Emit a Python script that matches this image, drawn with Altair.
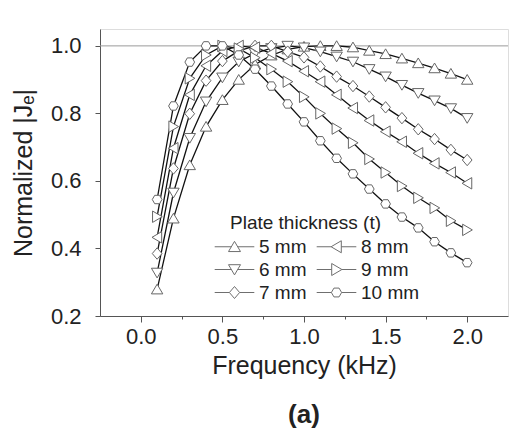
import altair as alt
import pandas as pd

freq = [0.1, 0.2, 0.3, 0.4, 0.5, 0.6, 0.7, 0.8, 0.9, 1.0,
        1.1, 1.2, 1.3, 1.4, 1.5, 1.6, 1.7, 1.8, 1.9, 2.0]

labels = ["5 mm", "6 mm", "7 mm", "8 mm", "9 mm", "10 mm"]

t5 = [0.279, 0.489, 0.647, 0.761, 0.840, 0.900, 0.945, 0.972, 0.990, 0.998,
      1.000, 1.000, 0.996, 0.986, 0.976, 0.963, 0.949, 0.934, 0.918, 0.900]
t6 = [0.328, 0.565, 0.727, 0.835, 0.906, 0.953, 0.978, 0.993, 1.000, 0.995,
      0.983, 0.968, 0.953, 0.931, 0.909, 0.884, 0.860, 0.838, 0.815, 0.786]
t7 = [0.385, 0.637, 0.799, 0.897, 0.955, 0.985, 1.000, 1.000, 0.983, 0.966,
      0.939, 0.909, 0.881, 0.850, 0.818, 0.786, 0.753, 0.724, 0.692, 0.662]
t8 = [0.433, 0.697, 0.855, 0.941, 0.985, 1.000, 0.995, 0.978, 0.955, 0.925,
      0.894, 0.855, 0.816, 0.779, 0.746, 0.716, 0.682, 0.652, 0.625, 0.593]
t9 = [0.494, 0.761, 0.904, 0.973, 1.000, 0.992, 0.965, 0.931, 0.894, 0.849,
      0.800, 0.755, 0.713, 0.665, 0.625, 0.585, 0.550, 0.520, 0.482, 0.455]
t10 = [0.545, 0.822, 0.952, 1.000, 1.000, 0.973, 0.931, 0.881, 0.828, 0.775,
       0.719, 0.667, 0.621, 0.576, 0.532, 0.493, 0.461, 0.420, 0.387, 0.358]

series = [t5, t6, t7, t8, t9, t10]

rows = []
for lab, vals in zip(labels, series):
    for f, v in zip(freq, vals):
        rows.append({"f": f, "v": v, "t": lab})
df = pd.DataFrame(rows)

# marker shapes (plot)
marker_paths = [
    "M0,-0.9L1,0.8L-1,0.8Z",                       # triangle up
    "M0,0.9L1,-0.8L-1,-0.8Z",                      # triangle down
    "M0,-1L0.85,0L0,1L-0.85,0Z",                   # diamond
    "M-0.9,0L0.8,-1L0.8,1Z",                       # triangle left
    "M0.9,0L-0.8,-1L-0.8,1Z",                      # triangle right
    "M-0.85,0L-0.425,-0.736L0.425,-0.736L0.85,0L0.425,0.736L-0.425,0.736Z",  # hexagon
]
# legend glyphs: line - marker - line
L = 3.3
legend_paths = [
    f"M-{L},0L-0.53,0M0.53,0L{L},0" + marker_paths[0],
    f"M-{L},0L-0.53,0M0.53,0L{L},0" + marker_paths[1],
    f"M-{L},0L-0.85,0M0.85,0L{L},0" + marker_paths[2],
    f"M-{L},0L-0.9,0M0.8,0L{L},0" + marker_paths[3],
    f"M-{L},0L-0.8,0M0.9,0L{L},0" + marker_paths[4],
    f"M-{L},0L-0.85,0M0.85,0L{L},0" + marker_paths[5],
]
legend_order = ["5 mm", "8 mm", "6 mm", "9 mm", "7 mm", "10 mm"]
legend_range = [legend_paths[labels.index(l)] for l in legend_order]

FONT = "Liberation Sans"

xscale = alt.Scale(domain=[-0.25, 2.25], nice=False, zero=False)
yscale = alt.Scale(domain=[0.2, 1.05], nice=False, zero=False)

x_values = [0, 0.25, 0.5, 0.75, 1.0, 1.25, 1.5, 1.75, 2.0]
y_values = [0.2, 0.3, 0.4, 0.5, 0.6, 0.7, 0.8, 0.9, 1.0]

xaxis = alt.Axis(
    values=x_values,
    labelExpr="round(datum.value*4) % 2 == 0 ? format(datum.value, '.1f') : ''",
    tickSize={"condition": {"test": "round(datum.value*4) % 2 == 0", "value": 6}, "value": 3},
    title="Frequency (kHz)", grid=False,
    labelFontSize=22, titleFontSize=25, titleFontWeight="normal",
    labelFont=FONT, titleFont=FONT, labelColor="#222", titleColor="#222",
    domainColor="#555", tickColor="#555", labelPadding=4, titlePadding=6,
    labelFlush=False, labelOverlap=False,
)
yaxis = alt.Axis(
    values=y_values,
    labelExpr="round(datum.value*10) % 2 == 0 ? format(datum.value, '.1f') : ''",
    tickSize={"condition": {"test": "round(datum.value*10) % 2 == 0", "value": 5}, "value": 3},
    title="Normalized |Jₑ|", grid=False,
    labelFontSize=22, titleFontSize=25, titleFontWeight="normal",
    labelFont=FONT, titleFont=FONT, labelColor="#222", titleColor="#222",
    domainColor="#555", tickColor="#555", labelPadding=14, titlePadding=14,
    labelFlush=False, labelOverlap=False,
)

base = alt.Chart(df)

ref = alt.Chart(pd.DataFrame({"y": [1.0]})).mark_rule(color="#9a9a9a", strokeWidth=1).encode(
    y=alt.Y("y:Q", scale=yscale, axis=yaxis)
)

lines = base.mark_line(color="#111", strokeWidth=1.3).encode(
    x=alt.X("f:Q", scale=xscale, axis=xaxis),
    y=alt.Y("v:Q", scale=yscale, axis=yaxis),
    detail="t:N",
)

points = base.mark_point(filled=True, fill="white", stroke="#666", strokeWidth=1, size=130, opacity=1).encode(
    x=alt.X("f:Q", scale=xscale),
    y=alt.Y("v:Q", scale=yscale),
    shape=alt.Shape("t:N", scale=alt.Scale(domain=labels, range=marker_paths), legend=None),
)

legend_layer = base.transform_filter("datum.f < 0").mark_point(
    filled=False, color="#333", strokeWidth=1, size=144
).encode(
    x=alt.X("f:Q", scale=xscale),
    y=alt.Y("v:Q", scale=yscale),
    shape=alt.Shape(
        "t:N",
        scale=alt.Scale(domain=legend_order, range=legend_range),
        legend=alt.Legend(
            title="\u200b\u2002\u2002Plate thickness (t)",
            orient="none", legendX=111, legendY=185,
            columns=2, direction="horizontal",
            titleFont=FONT, titleFontSize=19, titleFontWeight="normal", titleColor="#222",
            titleAnchor="start", titlePadding=4,
            labelFont=FONT, labelFontSize=19, labelColor="#222",
            symbolSize=144, symbolStrokeColor="#333",
            symbolStrokeWidth=1, symbolOffset=14, labelOffset=15,
            rowPadding=3, columnPadding=6, padding=0,
        ),
    ),
)

chart = alt.layer(ref, lines, points, legend_layer).resolve_scale(
    shape="independent"
).properties(
    width=408, height=287,
    autosize=alt.AutoSizeParams(type="none"),
    padding={"left": 100, "top": 29, "right": 1, "bottom": 120},
    title=alt.TitleParams(text="(a)", orient="bottom", anchor="middle", fontSize=26,
                          fontWeight="bold", font=FONT, color="#222", offset=24),
).configure_view(stroke=None).configure(background="white")

chart.save("out.html", embed_options={"renderer": "svg", "actions": False})
